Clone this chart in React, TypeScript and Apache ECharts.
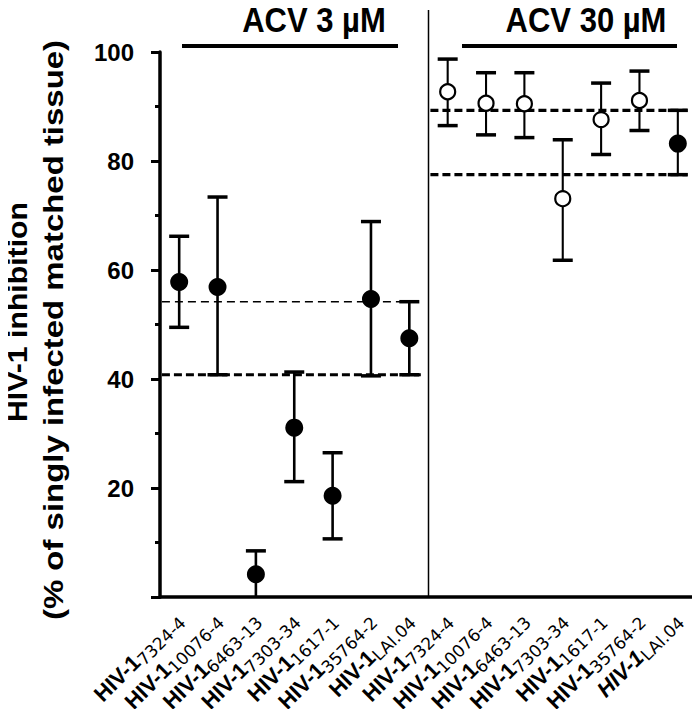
import React, { useEffect, useRef } from "react";
import * as echarts from "echarts";

// Strain subscripts (tick labels), 7 at ACV 3 µM, 7 at ACV 30 µM
const strainPrefix = "HIV-1";
const strains = [
  "7324-4", "10076-4", "6463-13", "7303-34", "1617-1", "35764-2", "LAI.04",
  "7324-4", "10076-4", "6463-13", "7303-34", "1617-1", "35764-2", "LAI.04",
];
const meanValues = [57.8, 56.9, 4.2, 31.1, 18.6, 54.7, 47.5, 92.7, 90.6, 90.5, 73.1, 87.6, 91.1, 83.2];
const upperValues = [66.2, 73.4, 8.5, 41.3, 26.5, 68.9, 54.2, 98.7, 96.2, 96.2, 83.9, 94.3, 96.5, 89.3];
const lowerValues = [49.5, 40.8, 0, 21.2, 10.7, 40.6, 40.8, 86.5, 84.8, 84.3, 61.8, 81.2, 85.6, 77.5];
const filledMarker = [1, 1, 1, 1, 1, 1, 1, 0, 0, 0, 0, 0, 0, 1];
// dashed reference lines: value and panel (0 = 3 µM, 1 = 30 µM), thick or thin
const refValues = [54.2, 40.8, 89.3, 77.5];
const refPanel = [0, 0, 1, 1];
const refThick = [0, 1, 1, 1];
const panelTitles = ["ACV 3 µM", "ACV 30 µM"];
const yTicks = [0, 20, 40, 60, 80, 100];
const yName1 = "HIV-1 inhibition";
const yName2 = "(% of singly infected matched tissue)";

const FONT = "'Liberation Sans', Arial, Helvetica, sans-serif";
const WIDE = "'DejaVu Sans', 'Liberation Sans', sans-serif";

export default function App() {
  const ref = useRef<HTMLDivElement>(null);
  useEffect(() => {
    if (!ref.current) return;
    const chart = echarts.init(ref.current, null, { renderer: "svg" });
    const n = strains.length;
    const panelExtent = [
      [-0.45, 6.3],
      [6.55, 13.25],
    ];
    const errData = meanValues.map((_, i) => [i, lowerValues[i], upperValues[i], i < 7 ? 2.6 : 2.1]);
    const filled = meanValues.map((v, i) => (filledMarker[i] ? [i, v] : null)).filter(Boolean);
    const open = meanValues.map((v, i) => (!filledMarker[i] ? [i, v] : null)).filter(Boolean);
    const refData = refValues.map((v, i) => [panelExtent[refPanel[i]][0], panelExtent[refPanel[i]][1], v, refThick[i]]);

    chart.setOption({
      animation: false,
      backgroundColor: "#fff",
      grid: { left: 160, right: 3, top: 52, bottom: 119, containLabel: false },
      xAxis: [
        {
          type: "category",
          data: strains.map((_, i) => String(i)),
          boundaryGap: true,
          axisLine: { onZero: false, lineStyle: { color: "#000", width: 3.5 } },
          axisTick: { show: false },
          splitLine: { show: false },
          axisLabel: {
            interval: 0,
            rotate: 45,
            margin: 19,
            formatter: (_v: string, idx: number) =>
              idx === n - 1
                ? `{ai|${strainPrefix}}{bi|${strains[idx]}}`
                : `{a|${strainPrefix}}{b|${strains[idx]}}`,
            rich: {
              a: { fontFamily: FONT, fontWeight: "bold", fontSize: 22, lineHeight: 27, color: "#000" },
              b: { fontFamily: WIDE, fontSize: 17, lineHeight: 15, verticalAlign: "bottom", color: "#000" },
              ai: { fontFamily: FONT, fontWeight: "bold", fontStyle: "italic", fontSize: 22, lineHeight: 27, color: "#000" },
              bi: { fontFamily: WIDE, fontSize: 17, lineHeight: 15, verticalAlign: "bottom", color: "#000" },
            },
          },
        },
        { type: "value", show: false, min: -0.5, max: n - 0.5 },
      ],
      yAxis: {
        type: "value",
        min: yTicks[0],
        max: yTicks[yTicks.length - 1],
        interval: 20,
        axisLine: { show: true, onZero: false, lineStyle: { color: "#000", width: 3.5 } },
        axisTick: { show: true, length: 9, lineStyle: { color: "#000", width: 3 } },
        minorTick: { show: true, splitNumber: 2, length: 5, lineStyle: { color: "#000", width: 3 } },
        splitLine: { show: false },
        axisLabel: {
          margin: 26,
          color: "#000",
          fontFamily: FONT,
          fontWeight: "bold",
          fontSize: 24,
          formatter: (v: number) => (v === 0 ? "" : String(v)),
        },
      },
      graphic: [
        {
          type: "text",
          x: 18,
          y: 312,
          rotation: Math.PI / 2,
          scaleX: 1.12,
          style: { text: yName1, font: `bold 27px ${FONT}`, fill: "#000", align: "center", verticalAlign: "middle" },
        },
        {
          type: "text",
          x: 54,
          y: 330,
          rotation: Math.PI / 2,
          scaleX: 1.22,
          style: { text: yName2, font: `bold 27px ${FONT}`, fill: "#000", align: "center", verticalAlign: "middle" },
        },
        {
          type: "text",
          x: 314,
          y: 20,
          scaleY: 1.13,
          style: { text: panelTitles[0], font: `bold 31px ${FONT}`, fill: "#000", align: "center", verticalAlign: "middle" },
        },
        {
          type: "text",
          x: 586,
          y: 20,
          scaleY: 1.13,
          style: { text: panelTitles[1], font: `bold 31px ${FONT}`, fill: "#000", align: "center", verticalAlign: "middle" },
        },
        { type: "line", shape: { x1: 182, y1: 46, x2: 398, y2: 46 }, style: { stroke: "#000", lineWidth: 4 } },
        { type: "line", shape: { x1: 462, y1: 46, x2: 677, y2: 46 }, style: { stroke: "#000", lineWidth: 4 } },
      ],
      series: [
        {
          // divider between panels
          type: "custom",
          xAxisIndex: 1,
          yAxisIndex: 0,
          clip: false,
          silent: true,
          data: [[6.5, 0]],
          renderItem: (_p: any, api: any) => {
            const p = api.coord([api.value(0), api.value(1)]);
            return {
              type: "line",
              shape: { x1: p[0], y1: 10, x2: p[0], y2: p[1] },
              style: { stroke: "#000", lineWidth: 1.5 },
            };
          },
          z: 1,
        },
        {
          type: "custom",
          xAxisIndex: 1,
          yAxisIndex: 0,
          silent: true,
          data: refData,
          renderItem: (_p: any, api: any) => {
            const a = api.coord([api.value(0), api.value(2)]);
            const b = api.coord([api.value(1), api.value(2)]);
            const thick = api.value(3) === 1;
            return {
              type: "line",
              shape: { x1: a[0], y1: a[1], x2: b[0], y2: b[1] },
              style: { stroke: "#000", lineWidth: thick ? 3.2 : 1.5, lineDash: thick ? [8, 4] : [8, 5] },
            };
          },
          z: 2,
        },
        {
          type: "custom",
          xAxisIndex: 1,
          yAxisIndex: 0,
          silent: true,
          data: errData,
          renderItem: (_p: any, api: any) => {
            const x = api.value(0);
            const lo = api.coord([x, api.value(1)]);
            const hi = api.coord([x, api.value(2)]);
            const lw = api.value(3);
            const hw = 10;
            const children: any[] = [
              { type: "line", shape: { x1: lo[0], y1: lo[1], x2: hi[0], y2: hi[1] }, style: { stroke: "#000", lineWidth: lw } },
              { type: "line", shape: { x1: hi[0] - hw, y1: hi[1], x2: hi[0] + hw, y2: hi[1] }, style: { stroke: "#000", lineWidth: 3.5 } },
            ];
            if (api.value(1) > 0) {
              children.push({ type: "line", shape: { x1: lo[0] - hw, y1: lo[1], x2: lo[0] + hw, y2: lo[1] }, style: { stroke: "#000", lineWidth: 3.5 } });
            }
            return { type: "group", children };
          },
          z: 3,
        },
        {
          type: "scatter",
          xAxisIndex: 1,
          yAxisIndex: 0,
          data: filled,
          symbol: "circle",
          symbolSize: 18,
          itemStyle: { color: "#000", opacity: 1 },
          z: 5,
        },
        {
          type: "scatter",
          xAxisIndex: 1,
          yAxisIndex: 0,
          data: open,
          symbol: "circle",
          symbolSize: 15,
          itemStyle: { color: "#fff", borderColor: "#000", borderWidth: 2.2, opacity: 1 },
          z: 5,
        },
      ],
    });
    return () => chart.dispose();
  }, []);
  return <div ref={ref} style={{ width: 700, height: 717, margin: -8 }} />;
}
